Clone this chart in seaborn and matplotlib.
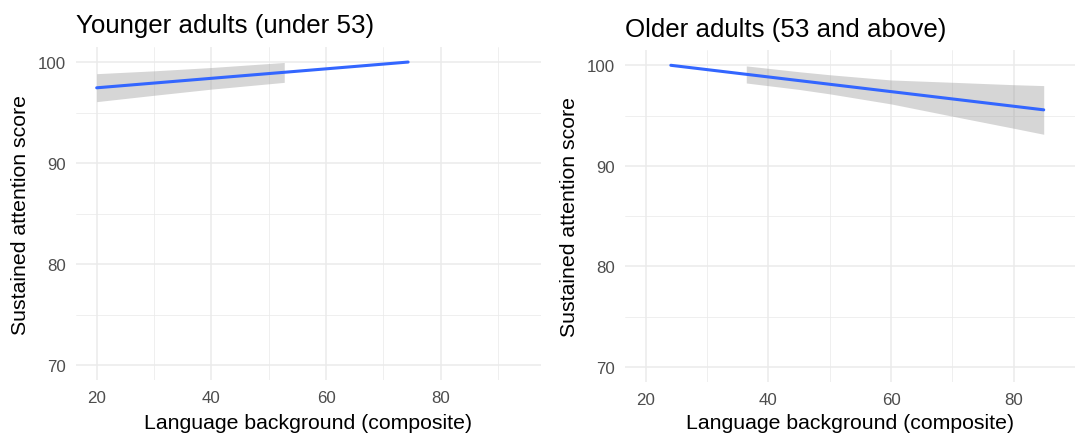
import matplotlib
matplotlib.use("Agg")
import matplotlib.pyplot as plt
import pandas as pd
import seaborn as sns

# --- values ---
panel_titles = ["Younger adults (under 53)", "Older adults (53 and above)"]
x_label = "Language background (composite)"
y_label = "Sustained attention score"

# fitted line (already cut where it leaves the 70-100 scale)
young_line_x = [20.0, 74.3]
young_line_y = [97.45, 100.0]
old_line_x = [24.1, 84.9]
old_line_y = [100.0, 95.57]

# confidence ribbon (only the part that stays inside the scale)
young_band_x = [20.0, 30.0, 40.0, 52.7]
young_band_lo = [96.08, 96.71, 97.32, 97.99]
young_band_hi = [98.85, 99.13, 99.46, 99.96]
old_band_x = [36.4, 45.0, 50.0, 60.0, 70.0, 80.0, 84.9]
old_band_lo = [98.24, 97.60, 97.16, 96.16, 94.94, 93.74, 93.14]
old_band_hi = [99.94, 99.36, 99.06, 98.54, 98.31, 98.07, 97.98]

x_major = [20, 40, 60, 80]
x_minor = [30, 50, 70, 90]
y_major = [70, 80, 90, 100]
y_minor = [75, 85, 95]

# --- style: something close to ggplot theme_minimal ---
sns.set_theme(style="white")
plt.rcParams["font.family"] = ["Liberation Sans", "DejaVu Sans"]

W, H = 1075, 435
fig = plt.figure(figsize=(W / 100, H / 100), dpi=100)

# axes boxes in pixels: left, top, right, bottom
boxes = [(76, 47.9, 541, 381.2), (625, 51.2, 1075, 383.1)]
xlims = [(16.39, 97.47), (16.63, 86.4)]
xlabel_pads = [6, 4.6]

panels = [
    (young_line_x, young_line_y, young_band_x, young_band_lo, young_band_hi),
    (old_line_x, old_line_y, old_band_x, old_band_lo, old_band_hi),
]

for i, (lx, ly, bx, blo, bhi) in enumerate(panels):
    l, t, r, b = boxes[i]
    ax = fig.add_axes([l / W, (H - b) / H, (r - l) / W, (b - t) / H])

    ax.fill_between(bx, blo, bhi, color="#999999", alpha=0.4, lw=0, zorder=2)
    line_df = pd.DataFrame({"x": lx, "y": ly})
    sns.lineplot(data=line_df, x="x", y="y", color="#3366FF", lw=2.2, ax=ax, zorder=3)

    ax.set_xlim(*xlims[i])
    ax.set_ylim(68.5, 101.5)
    ax.set_xticks(x_major)
    ax.set_xticks(x_minor, minor=True)
    ax.set_yticks(y_major)
    ax.set_yticks(y_minor, minor=True)
    ax.grid(which="major", color="#EBEBEB", lw=1.1, zorder=0)
    ax.grid(which="minor", color="#EBEBEB", lw=0.55, zorder=0)
    ax.set_axisbelow(True)
    ax.tick_params(which="both", length=0, pad=7, labelsize=12.2, labelcolor="#4D4D4D")
    for sp in ax.spines.values():
        sp.set_visible(False)

    ax.set_xlabel(x_label, fontsize=15.3, color="black", labelpad=xlabel_pads[i])
    ax.set_ylabel(y_label, fontsize=15.3, color="black", labelpad=6)
    ax.set_title(panel_titles[i], loc="left", fontsize=18.6, color="black", pad=10.4)

fig.savefig("out.png", dpi=100)
